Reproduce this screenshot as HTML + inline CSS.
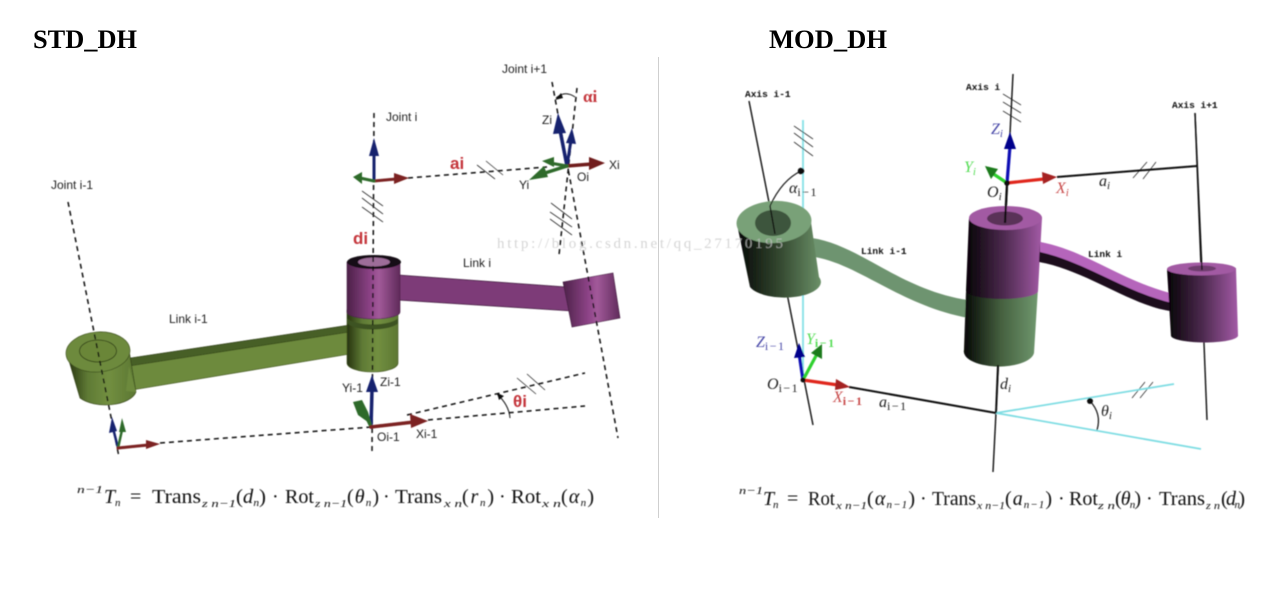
<!DOCTYPE html>
<html>
<head>
<meta charset="utf-8">
<style>
html,body{margin:0;padding:0;background:#fff;width:1270px;height:592px;overflow:hidden}
svg{display:block}
text{font-family:"Liberation Sans",sans-serif}
.l{font-size:12px;fill:#222}
.r{font-size:17px;font-weight:bold;fill:#c4343a}
.m{font-family:"Liberation Mono",monospace;font-size:9.5px;font-weight:bold;fill:#111}
.i{font-family:"Liberation Serif",serif;font-style:italic;font-size:16px}
.f{font-family:"Liberation Serif",serif;font-size:20px;fill:#111}
.fi{font-family:"Liberation Serif",serif;font-style:italic;font-size:20px;fill:#111}
.fs{font-family:"Liberation Serif",serif;font-style:italic;font-size:11px;fill:#111}
.d{stroke:#111;stroke-width:1.5;stroke-dasharray:5 4;fill:none}
.h{stroke:#333;stroke-width:.8;fill:none}
.k{stroke:#111;fill:none}
.c{stroke:#7fdde3;stroke-width:1.8;fill:none}
</style>
</head>
<body>
<svg width="1270" height="592" viewBox="0 0 1270 592" xmlns="http://www.w3.org/2000/svg">
<defs>
<linearGradient id="g1" x1="0" x2="1" y1="0" y2="0"><stop offset="0" stop-color="#26330f"/><stop offset=".3" stop-color="#5f7a35"/><stop offset=".6" stop-color="#728f40"/><stop offset="1" stop-color="#5c7733"/></linearGradient>
<linearGradient id="p1" x1="0" x2="1" y1="0" y2="0"><stop offset="0" stop-color="#4c2148"/><stop offset=".45" stop-color="#8e4488"/><stop offset=".6" stop-color="#a25a9a"/><stop offset="1" stop-color="#5f2a5a"/></linearGradient>
<linearGradient id="g2" x1="0" x2="1" y1="0" y2="0"><stop offset="0" stop-color="#050705"/><stop offset=".5" stop-color="#33472f"/><stop offset="1" stop-color="#6b9068"/></linearGradient>
<linearGradient id="p2" x1="0" x2="1" y1="0" y2="0"><stop offset="0" stop-color="#050205"/><stop offset=".5" stop-color="#4d2a4f"/><stop offset="1" stop-color="#a35aa6"/></linearGradient>
<linearGradient id="g3" x1="0" x2="1" y1="0" y2="0"><stop offset="0" stop-color="#050705"/><stop offset=".5" stop-color="#45603f"/><stop offset="1" stop-color="#70986f"/></linearGradient>
<filter id="b" x="-5%" y="-5%" width="110%" height="110%"><feGaussianBlur stdDeviation=".45"/></filter>
</defs>

<text x="33" y="48" style="font-family:'Liberation Serif',serif;font-weight:bold;font-size:26px" fill="#000" textLength="104" lengthAdjust="spacingAndGlyphs">STD_DH</text>
<text x="769" y="48" style="font-family:'Liberation Serif',serif;font-weight:bold;font-size:26px" fill="#000" textLength="118" lengthAdjust="spacingAndGlyphs">MOD_DH</text>
<line x1="658.5" y1="57" x2="658.5" y2="518" stroke="#cfcfcf" stroke-width="1"/>

<g filter="url(#b)">
<!-- LEFT diagram -->
<polygon points="398,275 566,287 572,311 398,300" fill="#7d3a78" stroke="#3d1a3a" stroke-width=".7"/>
<polygon points="563,282 613,273 620,318 572,327" fill="url(#p1)" stroke="#3d1a3a" stroke-width=".6"/>
<polygon points="130,358 350,325 350,332 130,366" fill="#465e25" stroke="#24310f" stroke-width=".6"/>
<polygon points="130,366 350,332 350,354 126,391" fill="#6d8a3c" stroke="#3a4d1b" stroke-width=".6"/>
<!-- left cylinder -->
<path d="M67,354 L80,398 A31,16 0 0 0 136,392 L129,350 Z" fill="url(#g1)" stroke="#2b3912" stroke-width=".6"/>
<ellipse cx="98" cy="352" rx="32" ry="20" fill="#6d8a3c" stroke="#3a4d1b" stroke-width=".7" transform="rotate(-4 98 352)"/>
<ellipse cx="98" cy="351" rx="18.500" ry="11" fill="#6a8639" stroke="#2b3912" stroke-width=".8"/>
<polygon points="129,366 136,392 126,391" fill="#6d8a3c"/>
<!-- green joint -->
<path d="M347,310 L347,363 A25.500,9 0 0 0 398,363 L398,310 Z" fill="url(#g1)" stroke="#3a4d1b" stroke-width=".6"/>
<path d="M347,318 A26,8 0 0 0 398,318 L398,323 A26,8 0 0 1 347,323Z" fill="#3d5320"/>
<!-- purple joint -->
<path d="M347,262 L347,312 A26.500,7 0 0 0 400,312 L400,262 Z" fill="url(#p1)" stroke="#4a2046" stroke-width=".6"/>
<ellipse cx="374" cy="262" rx="27" ry="7" fill="#141014"/>
<ellipse cx="374" cy="262" rx="16" ry="4.500" fill="#9d6d99"/>
<!-- dashed axes -->
<line class="d" x1="68" y1="202" x2="119" y2="457"/>
<line class="d" x1="374" y1="113" x2="372" y2="453"/>
<line class="d" x1="552" y1="82" x2="618" y2="438"/>
<line class="d" x1="577" y1="88" x2="559" y2="255"/>
<line class="d" x1="408" y1="178" x2="547" y2="167"/>
<line class="d" x1="160" y1="443" x2="372" y2="427"/>
<line class="d" x1="428" y1="420" x2="585" y2="406"/>
<line class="d" x1="407" y1="415" x2="585" y2="373"/>
<g class="h">
<path d="M477,165 L495,179 M486,161 L503,175"/>
<path d="M362,191 L383,206 M362,198 L383,214 M362,207 L383,222"/>
<path d="M551,203 L572,219 M550,212 L572,227 M550,219 L572,235"/>
<path d="M517,378 L536,394 M527,374 L545,390"/>
</g>
<path d="M510,418 Q509,405 497,394" class="k" stroke-width="1"/>
<polygon points="497,393 504,396 499,400" fill="#111"/>
<path d="M556,98 Q565,90 575,97" class="k" stroke-width="1"/>
<polygon points="555,100 561,93 563,98" fill="#111"/>
<!-- frames -->
<g stroke-linecap="round">
<path d="M374,181 L374,150" stroke="#16206e" stroke-width="3"/><polygon points="374,138 379,156 369,156" fill="#16206e"/>
<path d="M374,181 L396,179" stroke="#7b2320" stroke-width="3"/><polygon points="409,178 394,173 394,184" fill="#7b2320"/>
<path d="M374,181 L360,178" stroke="#2d6b2a" stroke-width="3"/><polygon points="353,177 362,172 362,184" fill="#2d6b2a"/>

<path d="M567,166 L560,130" stroke="#16206e" stroke-width="3.500"/><polygon points="558,113 566,133 553,134" fill="#16206e"/>
<path d="M567,166 L571,140" stroke="#16206e" stroke-width="3"/><polygon points="572,128 576,144 566,143" fill="#16206e"/>
<path d="M567,166 L592,164" stroke="#6f1f1c" stroke-width="3.500"/><polygon points="605,163 589,157 589,170" fill="#6f1f1c"/>
<path d="M567,166 L545,173" stroke="#2d6b2a" stroke-width="3.500"/><polygon points="529,180 544,166 548,177" fill="#2d6b2a"/>
<path d="M567,166 L550,163" stroke="#2d6b2a" stroke-width="3"/><polygon points="542,161 554,157 554,167" fill="#2d6b2a"/>

<path d="M371,427 L372,390" stroke="#16206e" stroke-width="3.500"/><polygon points="372,375 378,392 366,392" fill="#16206e"/>
<path d="M371,427 L362,408" stroke="#2d6b2a" stroke-width="3"/><path d="M353,402 L362,400 368,412 372,425 358,415Z" fill="#2d6b2a"/>
<path d="M371,427 L414,422" stroke="#7b2320" stroke-width="3.500"/><polygon points="428,421 410,414 411,428" fill="#7b2320"/>

<path d="M118,448 L113,428" stroke="#16206e" stroke-width="2.500"/><polygon points="112,417 117,431 109,433" fill="#16206e"/>
<path d="M118,448 L122,430" stroke="#2d6b2a" stroke-width="2.500"/><polygon points="122,418 126,432 119,432" fill="#2d6b2a"/>
<path d="M118,448 L148,445" stroke="#7b2320" stroke-width="3"/><polygon points="160,444 146,440 146,449" fill="#7b2320"/>
</g>
<!-- labels -->
<text x="51" y="189" class="l">Joint i-1</text>
<text x="169" y="323" class="l">Link i-1</text>
<text x="386" y="121" class="l">Joint i</text>
<text x="502" y="73" class="l">Joint i+1</text>
<text x="542" y="124" class="l">Zi</text>
<text x="519" y="189" class="l">Yi</text>
<text x="609" y="169" class="l">Xi</text>
<text x="577" y="181" class="l">Oi</text>
<text x="463" y="267" class="l">Link i</text>
<text x="342" y="392" class="l">Yi-1</text>
<text x="380" y="386" class="l">Zi-1</text>
<text x="377" y="441" class="l">Oi-1</text>
<text x="416" y="438" class="l">Xi-1</text>
<text x="450" y="169" class="r">ai</text>
<text x="353" y="244" class="r">di</text>
<text x="583" y="102" class="r" style="font-family:'Liberation Serif',serif">αi</text>
<text x="513" y="407" class="r">θi</text>

<!-- RIGHT diagram -->
<line x1="803" y1="120" x2="803" y2="380" stroke="#8fe3e8" stroke-width="2"/>
<line class="k" x1="749" y1="101" x2="813" y2="425" stroke-width="1.400"/>
<g class="h">
<path d="M794,126 L813,139 M794,133 L813,147 M794,142 L813,156"/>
<path d="M1003,94 L1021,105 M1003,102 L1021,113 M1003,111 L1021,122"/>
<path d="M1133,178 L1147,162 M1143,179 L1156,162"/>
<path d="M1132,398 L1145,382 M1140,398 L1153,382"/>
</g>
<line class="k" x1="1013" y1="74" x2="993" y2="472" stroke-width="1.400"/>
<line class="k" x1="1195" y1="113" x2="1207" y2="420" stroke-width="1.400"/>
<line class="k" x1="849" y1="387" x2="996" y2="413" stroke-width="2"/>
<line class="k" x1="1057" y1="177" x2="1197" y2="166" stroke-width="2"/>
<line class="c" x1="996" y1="413" x2="1174" y2="384"/>
<line class="c" x1="996" y1="413" x2="1201" y2="449"/>
<circle cx="1090" cy="401" r="3" fill="#111"/>
<path d="M1090,401 Q1102,414 1097,430" class="k" stroke-width="1.200"/>
<!-- link i-1 -->
<path d="M812,238 C860,245 900,290 968,300 L968,318 C900,305 860,265 815,257 Z" fill="#6e9470"/>
<!-- green cyl -->
<path d="M737,224 L750,287 A35,15 0 0 0 819,277 L811,222 Z" fill="url(#g2)"/>
<ellipse cx="774" cy="222" rx="37.500" ry="21" fill="#79a178" transform="rotate(-3 774 222)"/>
<ellipse cx="773" cy="223" rx="18" ry="13" fill="#3e553c"/>
<line class="k" x1="770" y1="206" x2="775" y2="234" stroke-width="1.400"/>
<circle cx="801" cy="171" r="3.300" fill="#111"/>
<path d="M801,171 Q782,180 770,206" class="k" stroke-width="1.200"/>
<!-- middle cylinder -->
<path d="M966,292 L964,350 A35,15 0 0 0 1034,353 L1038,288 Z" fill="url(#g3)"/>
<path d="M969,218 L966,291 A36,8 0 0 0 1038,291 L1042,218 Z" fill="url(#p2)"/>
<ellipse cx="1005.500" cy="218" rx="36.500" ry="12" fill="#a25aa3"/>
<ellipse cx="1005" cy="218.500" rx="18" ry="7" fill="#5a3158"/>
<line class="k" x1="1007" y1="183" x2="1005" y2="223" stroke-width="2.200"/>
<line class="k" x1="998" y1="365" x2="996" y2="413" stroke-width="2"/>
<!-- link i -->
<path d="M1040,242 C1085,252 1120,285 1170,296 L1170,311 C1130,305 1085,270 1039,262 Z" fill="#1c0f1e"/>
<path d="M1040,242 C1085,250 1120,280 1170,293 L1172,303 C1125,292 1085,262 1040,252 Z" fill="#b565bb"/>
<!-- end cylinder -->
<path d="M1167,269 L1171,336 A33.500,7 0 0 0 1238,335 L1236,268 Z" fill="url(#p2)"/>
<ellipse cx="1201.500" cy="269" rx="34.500" ry="6.500" fill="#a25aa3"/>
<ellipse cx="1202" cy="268.500" rx="14" ry="3" fill="#6e3e6e"/>
<line class="k" x1="1195" y1="113" x2="1202" y2="270" stroke-width="1.400"/>
<!-- frames -->
<g stroke-linecap="round">
<path d="M803,380 L799,353" stroke="#0a0ab4" stroke-width="3.200"/><polygon points="799,343 805,357 794,358" fill="#00008b"/>
<path d="M803,380 L817,354" stroke="#2fd02f" stroke-width="3.200"/><polygon points="822,344 822,359 811,353" fill="#1a7a1a"/>
<path d="M803,380 L838,385" stroke="#e0281e" stroke-width="3.200"/><polygon points="850,387 836,379 835,390" fill="#a52020"/>
<path d="M1007,183 L1010,146" stroke="#0a0ab4" stroke-width="3.200"/><polygon points="1010,132 1016,149 1004,149" fill="#00008b"/>
<path d="M1007,183 L992,173" stroke="#2fd02f" stroke-width="3.200"/><polygon points="985,166 998,169 991,179" fill="#1a7a1a"/>
<path d="M1007,183 L1044,179" stroke="#e0281e" stroke-width="3.200"/><polygon points="1057,177 1042,172 1043,184" fill="#a52020"/>
</g>
<circle cx="803" cy="380" r="2.500" fill="#111"/>
<circle cx="1007" cy="183" r="2.800" fill="#111"/>
<!-- labels -->
<text x="745" y="97" class="m">Axis i-1</text>
<text x="966" y="90" class="m">Axis i</text>
<text x="1172" y="108" class="m">Axis i+1</text>
<text x="861" y="254" class="m">Link i-1</text>
<text x="1088" y="257" class="m">Link i</text>
<text x="789" y="193" class="i" fill="#222">α<tspan font-size="12" dy="3" font-style="normal" letter-spacing="1.500">i−1</tspan></text>
<text x="991" y="134" class="i" fill="#4a4aa8">Z<tspan font-size="11" dy="3">i</tspan></text>
<text x="964" y="172" class="i" fill="#55dd55">Y<tspan font-size="11" dy="3">i</tspan></text>
<text x="987" y="197" class="i" fill="#222">O<tspan font-size="11" dy="3">i</tspan></text>
<text x="1056" y="193" class="i" fill="#c84a4a">X<tspan font-size="11" dy="3">i</tspan></text>
<text x="1099" y="186" class="i" fill="#222">a<tspan font-size="11" dy="3">i</tspan></text>
<text x="1000" y="389" class="i" fill="#222">d<tspan font-size="11" dy="3">i</tspan></text>
<text x="1101" y="416" class="i" fill="#222">θ<tspan font-size="11" dy="3">i</tspan></text>
<text x="756" y="347" class="i" fill="#4a4aa8">Z<tspan font-size="12" dy="3" font-style="normal" letter-spacing="1.500">i−1</tspan></text>
<text x="806" y="344" class="i" fill="#55dd55">Y<tspan font-size="12" dy="3" font-style="normal" font-weight="bold" letter-spacing="1.500">i−1</tspan></text>
<text x="767" y="389" class="i" fill="#222">O<tspan font-size="12" dy="3" font-style="normal" letter-spacing="1.500">i−1</tspan></text>
<text x="833" y="402" class="i" fill="#c84a4a">X<tspan font-size="12" dy="3" font-style="normal" font-weight="bold" letter-spacing="1.500">i−1</tspan></text>
<text x="879" y="407" class="i" fill="#222">a<tspan font-size="12" dy="3" font-style="normal" letter-spacing="1.500">i−1</tspan></text>

<!-- watermark -->
<text x="497" y="248" style="font-family:'Liberation Serif',serif;font-size:15px" fill="#c4c4c4" fill-opacity=".7" textLength="286" lengthAdjust="spacing">http://blog.csdn.net/qq_27170195</text>

<!-- formula left -->
<text class="fs" x="77" y="493" font-size="12" textLength="26" lengthAdjust="spacingAndGlyphs">n−1</text>
<text class="fi" x="104" y="503">T</text><text class="fs" x="115" y="506">n</text>
<text class="f" x="130" y="503">=</text>
<text class="f" x="152" y="503" textLength="49" lengthAdjust="spacingAndGlyphs">Trans</text>
<text class="fs" x="202" y="507" font-size="10" textLength="34" lengthAdjust="spacingAndGlyphs">z n−1</text>
<text class="f" x="236" y="503" textLength="30" lengthAdjust="spacingAndGlyphs">(<tspan font-style="italic">d</tspan><tspan font-size="11" dy="3" font-style="italic">n</tspan><tspan dy="-3">)</tspan></text>
<text class="f" x="272" y="503">·</text>
<text class="f" x="285" y="503" textLength="29" lengthAdjust="spacingAndGlyphs">Rot</text>
<text class="fs" x="315" y="507" font-size="10" textLength="32" lengthAdjust="spacingAndGlyphs">z n−1</text>
<text class="f" x="347" y="503" textLength="32" lengthAdjust="spacing">(<tspan font-style="italic">θ</tspan><tspan font-size="11" dy="3" font-style="italic">n</tspan><tspan dy="-3">)</tspan></text>
<text class="f" x="383" y="503">·</text>
<text class="f" x="395" y="503" textLength="47" lengthAdjust="spacingAndGlyphs">Trans</text>
<text class="fs" x="444" y="507" font-size="10" textLength="18" lengthAdjust="spacingAndGlyphs">x n</text>
<text class="f" x="462" y="503" textLength="32" lengthAdjust="spacing">(<tspan font-style="italic">r</tspan><tspan font-size="11" dy="3" font-style="italic">n</tspan><tspan dy="-3">)</tspan></text>
<text class="f" x="499" y="503">·</text>
<text class="f" x="511" y="503" textLength="30" lengthAdjust="spacingAndGlyphs">Rot</text>
<text class="fs" x="542" y="507" font-size="10" textLength="19" lengthAdjust="spacingAndGlyphs">x n</text>
<text class="f" x="561" y="503" textLength="33" lengthAdjust="spacing">(<tspan font-style="italic">α</tspan><tspan font-size="11" dy="3" font-style="italic">n</tspan><tspan dy="-3">)</tspan></text>

<!-- formula right -->
<text class="fs" x="739" y="494" font-size="12" textLength="24" lengthAdjust="spacingAndGlyphs">n−1</text>
<text class="fi" x="763" y="505">T</text><text class="fs" x="773" y="508">n</text>
<text class="f" x="787" y="505">=</text>
<text class="f" x="808" y="505" textLength="27" lengthAdjust="spacingAndGlyphs">Rot</text>
<text class="fs" x="836" y="509" font-size="10" textLength="31" lengthAdjust="spacingAndGlyphs">x n−1</text>
<text class="f" x="867" y="505" textLength="48" lengthAdjust="spacing">(<tspan font-style="italic">α</tspan><tspan font-size="11" dy="3" font-style="italic">n−1</tspan><tspan dy="-3">)</tspan></text>
<text class="f" x="920" y="505">·</text>
<text class="f" x="932" y="505" textLength="44" lengthAdjust="spacingAndGlyphs">Trans</text>
<text class="fs" x="977" y="509" font-size="10" textLength="28" lengthAdjust="spacingAndGlyphs">x n−1</text>
<text class="f" x="1005" y="505" textLength="47" lengthAdjust="spacing">(<tspan font-style="italic">a</tspan><tspan font-size="11" dy="3" font-style="italic">n−1</tspan><tspan dy="-3">)</tspan></text>
<text class="f" x="1058" y="505">·</text>
<text class="f" x="1069" y="505" textLength="29" lengthAdjust="spacingAndGlyphs">Rot</text>
<text class="fs" x="1098" y="509" font-size="10" textLength="17" lengthAdjust="spacingAndGlyphs">z n</text>
<text class="f" x="1115" y="505" textLength="26" lengthAdjust="spacing">(<tspan font-style="italic">θ</tspan><tspan font-size="11" dy="3" font-style="italic">n</tspan><tspan dy="-3">)</tspan></text>
<text class="f" x="1146" y="505">·</text>
<text class="f" x="1159" y="505" textLength="46" lengthAdjust="spacingAndGlyphs">Trans</text>
<text class="fs" x="1206" y="509" font-size="10" textLength="14" lengthAdjust="spacingAndGlyphs">z n</text>
<text class="f" x="1221" y="505" textLength="24" lengthAdjust="spacing">(<tspan font-style="italic">d</tspan><tspan font-size="11" dy="3" font-style="italic">n</tspan><tspan dy="-3">)</tspan></text>
</g>
</svg>
</body>
</html>
